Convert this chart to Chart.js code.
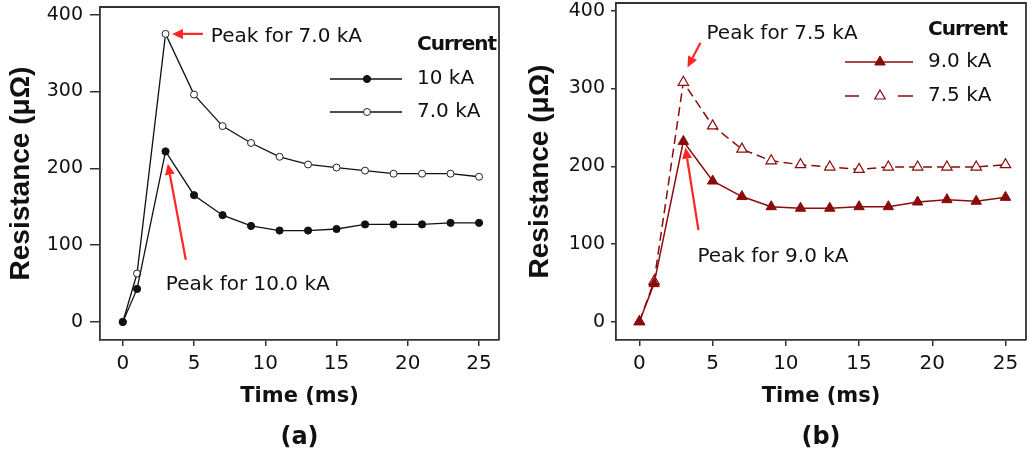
<!DOCTYPE html>
<html lang="en">
<head>
<meta charset="UTF-8">
<title>Resistance vs time</title>
<script src="https://cdn.jsdelivr.net/npm/chart.js@4"></script>
<style>
  html, body { margin: 0; padding: 0; background: #fff; }
  body { width: 1027px; height: 458px; position: relative; overflow: hidden; }
  canvas { position: absolute; top: 0; }
  #chartA { left: 0; }
  #chartB { left: 515px; }
</style>
</head>
<body>
<canvas id="chartA" width="515" height="458"></canvas>
<canvas id="chartB" width="512" height="458"></canvas>
<script>
// data
const timeMs = [0, 1, 3, 5, 7, 9, 11, 13, 15, 17, 19, 21, 23, 25];
const xTicks = [0, 5, 10, 15, 20, 25];
const yTicks = [0, 100, 200, 300, 400];
const res10kA = [0, 43, 222, 165, 139, 125, 119, 119, 121, 127, 127, 127, 129, 129];
const res70kA = [0, 63, 375, 296, 255, 233, 215, 205, 201, 197, 193, 193, 193, 189];
const res90kA = [0, 49, 232, 181, 161, 148, 146, 146, 148, 148, 154, 157, 155, 160];
const res75kA = [0, 52, 308, 252, 222, 207, 202, 199, 196, 199, 199, 199, 199, 202];

const axisColor = '#333';
const textColor = '#111';
const maroon = '#8b0a0a';
const arrowRed = '#ff2626';

const pairs = vals => vals.map((v, i) => ({ x: timeMs[i], y: v }));

// frame, legend and peak notes
const decor = {
  id: 'decor',
  afterDatasetsDraw(chart, args, opts) {
    const { ctx, chartArea: a, scales: { x, y } } = chart;
    ctx.save();
    ctx.strokeStyle = axisColor;
    ctx.lineWidth = 1.8;
    ctx.beginPath();
    ctx.moveTo(a.left, a.top);
    ctx.lineTo(a.right, a.top);
    ctx.lineTo(a.right, a.bottom);
    ctx.stroke();

    // legend
    const L = opts.legend;
    ctx.fillStyle = textColor;
    ctx.textBaseline = 'middle';
    ctx.textAlign = 'left';
    ctx.font = 'bold 20px "DejaVu Sans"';
    ctx.letterSpacing = '-1px';
    ctx.fillText('Current', a.right - L.textDx, a.top + L.titleDy);
    ctx.letterSpacing = '0px';
    chart.data.datasets.forEach((ds, i) => {
      const yy = a.top + L.rows[i];
      const x0 = a.right - L.lineFrom, x1 = a.right - L.lineTo, mx = a.right - L.markDx;
      ctx.strokeStyle = ds.borderColor;
      ctx.lineWidth = ds.borderWidth;
      ctx.setLineDash([]);
      ctx.beginPath();
      if (ds.borderDash) {
        ctx.moveTo(x0, yy); ctx.lineTo(x0 + 14, yy);
        ctx.moveTo(x1 - 15, yy); ctx.lineTo(x1, yy);
      } else {
        ctx.moveTo(x0, yy); ctx.lineTo(x1, yy);
      }
      ctx.stroke();
      ctx.fillStyle = ds.pointBackgroundColor;
      ctx.strokeStyle = ds.pointBorderColor;
      ctx.lineWidth = ds.pointBorderWidth;
      Chart.helpers.drawPoint(ctx, {
        pointStyle: ds.pointStyle, radius: ds.pointRadius,
        borderWidth: ds.pointBorderWidth, rotation: 0
      }, mx, yy);
      ctx.fillStyle = textColor;
      ctx.font = '20px "DejaVu Sans"';
      ctx.fillText(ds.label, a.right - L.textDx, yy);
    });

    // peak notes with red arrows
    opts.notes.forEach(n => {
      ctx.fillStyle = textColor;
      ctx.font = '20px "DejaVu Sans"';
      ctx.fillText(n.text, x.getPixelForValue(n.tx), y.getPixelForValue(n.ty));
      const fx = x.getPixelForValue(n.from[0]), fy = y.getPixelForValue(n.from[1]);
      const tx = x.getPixelForValue(n.to[0]), ty = y.getPixelForValue(n.to[1]);
      const ang = Math.atan2(ty - fy, tx - fx);
      const hl = 11, hw = 5;
      const bx = tx - hl * Math.cos(ang), by = ty - hl * Math.sin(ang);
      ctx.strokeStyle = arrowRed;
      ctx.lineWidth = 2.2;
      ctx.beginPath();
      ctx.moveTo(fx, fy);
      ctx.lineTo(bx, by);
      ctx.stroke();
      ctx.fillStyle = arrowRed;
      ctx.beginPath();
      ctx.moveTo(tx, ty);
      ctx.lineTo(bx + hw * Math.sin(ang), by - hw * Math.cos(ang));
      ctx.lineTo(bx - hw * Math.sin(ang), by + hw * Math.cos(ang));
      ctx.closePath();
      ctx.fill();
    });
    ctx.restore();
  }
};

function makeChart(id, datasets, p) {
  return new Chart(document.getElementById(id), {
    type: 'line',
    data: { datasets },
    plugins: [decor],
    options: {
      responsive: false,
      animation: false,
      devicePixelRatio: 1,
      layout: { autoPadding: false, padding: { top: p.padTop, right: p.padRight, left: 0, bottom: 0 } },
      scales: {
        x: {
          type: 'linear',
          min: -1.6, max: 26.4,
          afterBuildTicks: axis => { axis.ticks = xTicks.map(v => ({ value: v })); },
          afterFit: scale => {
            scale.height = 83.6;
            scale.paddingLeft = 0;
            scale.paddingRight = 0;
          },
          border: { color: axisColor, width: 1.8 },
          grid: { drawOnChartArea: false, drawTicks: true, tickLength: 6, color: axisColor, lineWidth: 1.5 },
          ticks: { color: textColor, padding: 6, maxRotation: 0, font: { family: 'DejaVu Sans', size: 20 } },
          title: {
            display: true, text: 'Time (ms)', color: textColor,
            padding: { top: 0, bottom: 14 },
            font: { family: 'DejaVu Sans', size: 21, weight: 'bold' }
          }
        },
        y: {
          min: -23.5, max: 410,
          afterBuildTicks: axis => { axis.ticks = yTicks.map(v => ({ value: v })); },
          afterFit: scale => {
            scale.width = p.yWidth;
            scale.paddingTop = 0;
            scale.paddingBottom = 0;
          },
          border: { color: axisColor, width: 1.8 },
          grid: { drawOnChartArea: false, drawTicks: true, tickLength: p.yTickLen, color: axisColor, lineWidth: 1.5 },
          ticks: { color: textColor, padding: p.yTickPad, font: { family: 'DejaVu Sans', size: 19 } },
          title: {
            display: true, text: 'Resistance (μΩ)', color: textColor,
            padding: { top: p.yTitlePad, bottom: 0 },
            font: { family: 'Liberation Sans', size: 28, weight: 'bold' }
          }
        }
      },
      plugins: {
        legend: { display: false },
        tooltip: { enabled: false },
        title: {
          display: true, position: 'bottom', fullSize: false, text: p.panel, color: textColor,
          padding: { top: 0, bottom: 5.6 },
          font: { family: 'DejaVu Sans', size: 24, weight: 'bold' }
        },
        decor: { legend: p.legend, notes: p.notes }
      }
    }
  });
}

makeChart('chartA', [
  {
    label: '10 kA', data: pairs(res10kA),
    borderColor: '#111', borderWidth: 1.3, tension: 0,
    pointStyle: 'circle', pointRadius: 3.6,
    pointBackgroundColor: '#111', pointBorderColor: '#111', pointBorderWidth: 1
  },
  {
    label: '7.0 kA', data: pairs(res70kA),
    borderColor: '#111', borderWidth: 1.3, tension: 0,
    pointStyle: 'circle', pointRadius: 3.5,
    pointBackgroundColor: '#fff', pointBorderColor: '#222', pointBorderWidth: 1
  }
], {
  panel: '(a)', padTop: 7, padRight: 16, yWidth: 100, yTickLen: 10, yTickPad: 7, yTitlePad: 4,
  legend: { textDx: 82, titleDy: 38, rows: [72, 105], lineFrom: 169, lineTo: 97, markDx: 132 },
  notes: [
    { text: 'Peak for 7.0 kA', tx: 6.18, ty: 371, from: [5.62, 375], to: [3.45, 375] },
    { text: 'Peak for 10.0 kA', tx: 3.02, ty: 48, from: [4.42, 81], to: [3.16, 206] }
  ]
});

makeChart('chartB', [
  {
    label: '9.0 kA', data: pairs(res90kA),
    borderColor: maroon, borderWidth: 1.5, tension: 0,
    pointStyle: 'triangle', pointRadius: 6,
    pointBackgroundColor: maroon, pointBorderColor: maroon, pointBorderWidth: 1
  },
  {
    label: '7.5 kA', data: pairs(res75kA),
    borderColor: maroon, borderWidth: 1.5, borderDash: [9, 5], tension: 0,
    pointStyle: 'triangle', pointRadius: 6,
    pointBackgroundColor: '#fff', pointBorderColor: maroon, pointBorderWidth: 1.2
  }
], {
  panel: '(b)', padTop: 3, padRight: 1, yWidth: 101, yTickLen: 5, yTickPad: 6, yTitlePad: 8,
  legend: { textDx: 98, titleDy: 27, rows: [59, 93], lineFrom: 181, lineTo: 113, markDx: 146 },
  notes: [
    { text: 'Peak for 7.5 kA', tx: 4.58, ty: 370, from: [4.17, 359], to: [3.28, 327] },
    { text: 'Peak for 9.0 kA', tx: 3.96, ty: 83, from: [4.03, 118], to: [3.14, 224] }
  ]
});
</script>
</body>
</html>
